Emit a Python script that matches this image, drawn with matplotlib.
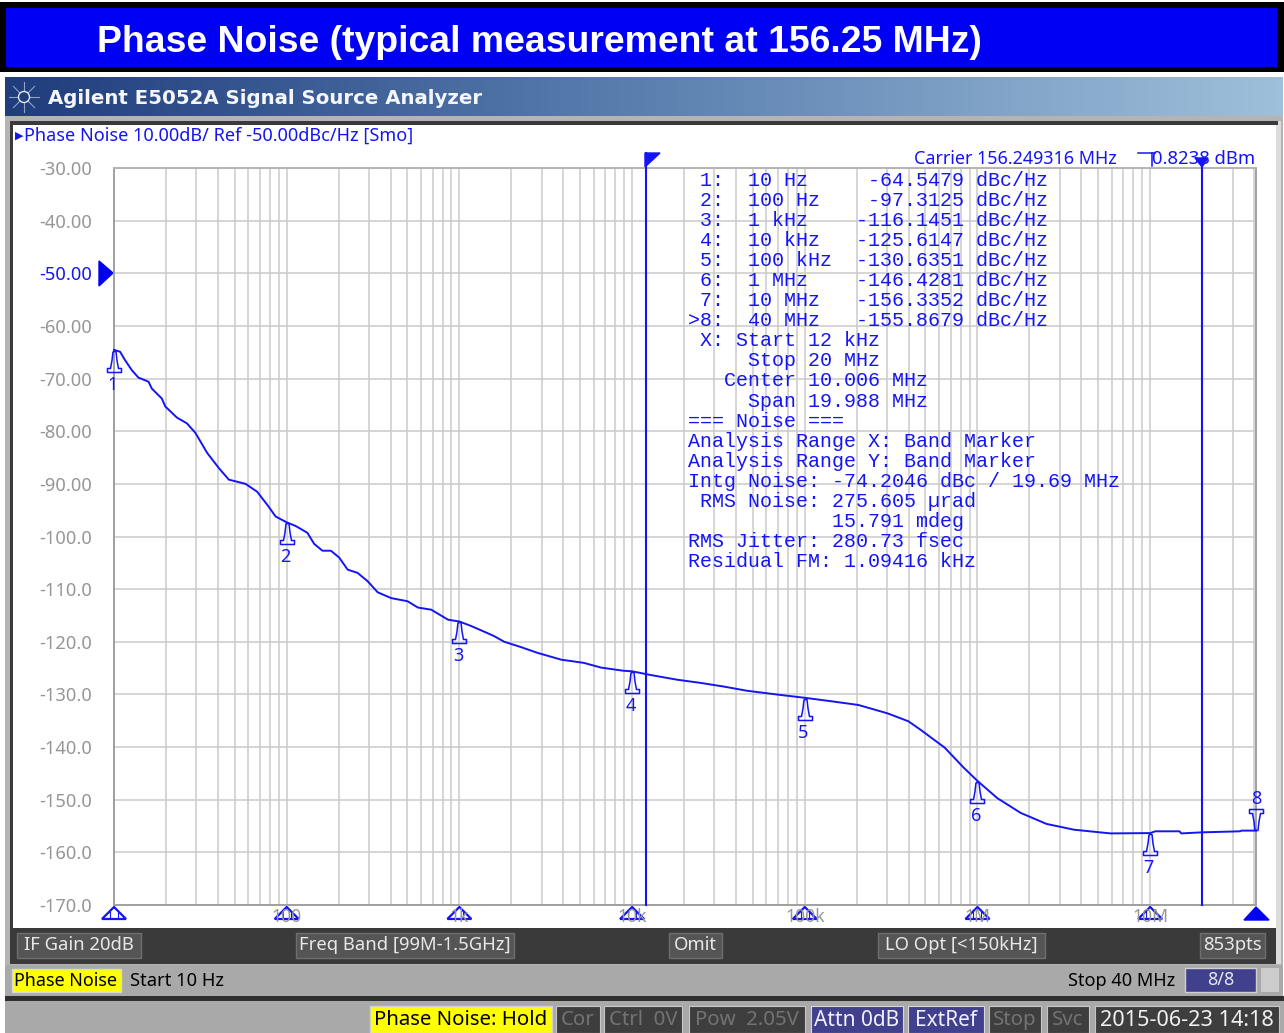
import numpy as np
import matplotlib
matplotlib.use("Agg")
import matplotlib.pyplot as plt
from matplotlib.patches import Rectangle, Polygon
from matplotlib.path import Path
from matplotlib.colors import LinearSegmentedColormap
from matplotlib.ticker import NullFormatter, NullLocator, LogLocator

# ---------- data ----------
trace_log10_hz = [1.00, 1.035, 1.064, 1.103, 1.141, 1.20, 1.219, 1.277, 1.297, 1.364, 1.422, 1.471,
                  1.539, 1.607, 1.665, 1.762, 1.829, 1.888, 1.936, 2.00, 2.052, 2.12, 2.159, 2.207,
                  2.256, 2.304, 2.353, 2.41, 2.469, 2.527, 2.605, 2.70, 2.76, 2.837, 2.934, 3.00,
                  3.068, 3.145, 3.20, 3.26, 3.356, 3.452, 3.59, 3.72, 3.82, 3.95, 4.00,
                  4.106, 4.26, 4.395, 4.53, 4.665, 4.86, 5.00, 5.154, 5.31, 5.48, 5.60, 5.67, 5.81, 5.92,
                  6.00, 6.115, 6.25, 6.40, 6.56, 6.77, 7.00, 7.03, 7.17, 7.18, 7.30, 7.52, 7.53, 7.613]
trace_dbc = [-64.55, -64.9, -66.5, -68.4, -69.8, -70.6, -71.9, -73.8, -75.3, -77.4, -78.5, -80.3,
             -84.1, -87.0, -89.2, -90.0, -91.5, -94.0, -96.2, -97.31, -98.0, -99.3, -101.4, -102.7,
             -102.7, -104.0, -106.3, -106.9, -108.5, -110.6, -111.7, -112.3, -113.5, -113.9, -115.8, -116.15,
             -117.0, -118.1, -118.9, -120.0, -121.0, -122.1, -123.4, -124.0, -124.9, -125.5, -125.61,
             -126.3, -127.2, -127.8, -128.5, -129.3, -130.1, -130.64, -131.3, -132.0, -133.6, -135.1, -136.7, -140.1, -143.9,
             -146.43, -149.7, -152.5, -154.6, -155.7, -156.4, -156.34, -156.0, -156.0, -156.4, -156.2, -156.0, -155.87, -155.87]
marker_ids = ["1", "2", "3", "4", "5", "6", "7", "8"]
marker_log10_hz = [1, 2, 3, 4, 5, 6, 7, 7.613]
marker_dbc = [-64.5479, -97.3125, -116.1451, -125.6147, -130.6351, -146.4281, -156.3352, -155.8679]
y_ticks = [-30, -40, -50, -60, -70, -80, -90, -100, -110, -120, -130, -140, -150, -160, -170]
y_labels = ["-30.00", "-40.00", "-50.00", "-60.00", "-70.00", "-80.00", "-90.00", "-100.0", "-110.0",
            "-120.0", "-130.0", "-140.0", "-150.0", "-160.0", "-170.0"]
x_ticks = [1e2, 1e3, 1e4, 1e5, 1e6, 1e7]
x_labels = ["100", "1k", "10k", "100k", "1M", "10M"]
band_hz = [12e3, 20e6]
readout = [
    (1, "1:  10 Hz     -64.5479 dBc/Hz"),
    (1, "2:  100 Hz    -97.3125 dBc/Hz"),
    (1, "3:  1 kHz    -116.1451 dBc/Hz"),
    (1, "4:  10 kHz   -125.6147 dBc/Hz"),
    (1, "5:  100 kHz  -130.6351 dBc/Hz"),
    (1, "6:  1 MHz    -146.4281 dBc/Hz"),
    (1, "7:  10 MHz   -156.3352 dBc/Hz"),
    (0, ">8:  40 MHz   -155.8679 dBc/Hz"),
    (1, "X: Start 12 kHz"),
    (5, "Stop 20 MHz"),
    (3, "Center 10.006 MHz"),
    (5, "Span 19.988 MHz"),
    (0, "=== Noise ==="),
    (0, "Analysis Range X: Band Marker"),
    (0, "Analysis Range Y: Band Marker"),
    (0, "Intg Noise: -74.2046 dBc / 19.69 MHz"),
    (1, "RMS Noise: 275.605 µrad"),
    (12, "15.791 mdeg"),
    (0, "RMS Jitter: 280.73 fsec"),
    (0, "Residual FM: 1.09416 kHz"),
]
soft_buttons = [("IF Gain 20dB", 17, 141), ("Freq Band [99M-1.5GHz]", 296, 514), ("Omit", 669, 722),
                ("LO Opt [<150kHz]", 878, 1045), ("853pts", 1200, 1265)]
status_muted = [("Cor", 556, 600), ("Ctrl  0V", 604, 682), ("Pow  2.05V", 689, 805),
                ("Stop", 989, 1041), ("Svc", 1047, 1089)]
status_active = [("Attn 0dB", 811, 903), ("ExtRef", 908, 984)]

W, H = 1284, 1033
BLUE = "#1414f5"
GRID = "#cccccc"
UI = "Noto Sans"
fig = plt.figure(figsize=(W / 100, H / 100), dpi=100, facecolor="white")

# pixel-space layer for the instrument window
bg = fig.add_axes([0, 0, 1, 1], zorder=0)
bg.set_xlim(0, W)
bg.set_ylim(H, 0)
bg.axis("off")


def box(x0, y0, x1, y1, color, **kw):
    bg.add_patch(Rectangle((x0, y0), x1 - x0, y1 - y0, facecolor=color, edgecolor=kw.pop("ec", "none"),
                           linewidth=kw.pop("lw", 0), **kw))


def label(x, y, s, color, size=13, ha="left", **kw):
    bg.text(x, y, s, color=color, fontsize=size, ha=ha, va="center", family=kw.pop("family", UI), **kw)


# title band
box(0, 2, W, 72, "black")
box(6, 8, 1277, 67, "#0000f2")
label(97, 43, "Phase Noise (typical measurement at 156.25 MHz)", "white", size=26.9, family="Liberation Sans",
      fontweight="bold")

# window header
cmap = LinearSegmentedColormap.from_list("hdr", ["#1f3c7c", "#5b80b0", "#9fc0da"])
bg.imshow(np.linspace(0, 1, 256)[None, :], extent=(5, 1283, 116, 77), cmap=cmap, aspect="auto", zorder=1)
bg.set_xlim(0, W)
bg.set_ylim(H, 0)
label(48, 98, "Agilent E5052A Signal Source Analyzer", "#f4f6fa", size=14.2, fontweight="bold",
      family="DejaVu Sans", zorder=3)
for a in np.arange(0, np.pi, np.pi / 4):
    dx, dy = 15 * np.cos(a), 15 * np.sin(a)
    bg.plot([24 - dx, 24 + dx], [97 - dy, 97 + dy], color="#8fa3c4", lw=0.8, zorder=2)
bg.add_patch(plt.Circle((24, 97), 5.5, facecolor="#1f3c7c", edgecolor="#e4e8f0", lw=1, zorder=2.5))

# panel frame
box(5, 116, 1283, 1000, "#b4b4b4")
box(1276, 121, 1281, 964, "#dcdcdc")
box(10, 121, 1278, 125, "#3a3a3a")
box(10, 121, 13, 964, "#3a3a3a")
box(11, 928, 1276, 964, "#3a3a3a")
box(13, 125, 1276, 928, "white")

# soft buttons row
for s, x0, x1 in soft_buttons:
    box(x0, 933, x1, 958, "#555555", ec="#6e6e6e", lw=1)
    label((x0 + x1) / 2, 945.5, s, "#e8e8e8", size=13.3, ha="center")

# status rows
box(5, 965, 1283, 996, "#a9a9a9")
box(12, 969, 121, 992, "#ffff00", ec="#d8d8d8", lw=1)
label(66, 981, "Phase Noise", "black", size=12.9, ha="center")
label(130, 981, "Start 10 Hz", "black", size=13.2)
label(1175, 981, "Stop 40 MHz", "black", size=13, ha="right")
box(1185, 968, 1256, 992, "#40408c", ec="#d0d0d0", lw=1)
label(1220.5, 980, "8/8", "#e8e8f4", size=13, ha="center")
box(1261, 968, 1279, 992, "#cccccc")
box(5, 996, 1284, 1001, "#2e2e2e")
box(5, 1001, 1284, 1033, "#a9a9a9")
box(370, 1006, 552, 1033, "#ffff00", ec="#d0d0d0", lw=1)
label(461, 1020, "Phase Noise: Hold", "black", size=14.7, ha="center")
for s, x0, x1 in status_muted:
    box(x0, 1006, x1, 1033, "#3e3e3e", ec="#c8c8c8", lw=0.8)
    label((x0 + x1) / 2, 1020, s, "#737373", size=14.7, ha="center")
for s, x0, x1 in status_active:
    box(x0, 1006, x1, 1033, "#40408c", ec="#d8d8d8", lw=0.8)
    label((x0 + x1) / 2, 1020, s, "#f0f0ff", size=15, ha="center")
box(1095, 1006, 1279, 1033, "#3e3e3e", ec="#c8c8c8", lw=0.8)
label(1187, 1020, "2015-06-23 14:18", "#f0f0f0", size=15.6, ha="center")

# plot header texts
label(15, 136, "▶", BLUE, size=8, family="DejaVu Sans")
label(24, 136, "Phase Noise 10.00dB/ Ref -50.00dBc/Hz [Smo]", BLUE, size=13)
label(914, 159, "Carrier 156.249316 MHz", BLUE, size=12.9)
label(1152, 159, "0.8238 dBm", BLUE, size=13.3)
bg.plot([1138, 1155], [153, 153], color=BLUE, lw=1.1)
bg.plot([1152, 1152], [153, 166], color=BLUE, lw=1.1)

# ---------- chart ----------
ax_l, ax_r, ax_t, ax_b = 114, 1256, 168, 905
ax = fig.add_axes([ax_l / W, 1 - ax_b / H, (ax_r - ax_l) / W, (ax_b - ax_t) / H], zorder=2)
ax.patch.set_alpha(0)
ax.set_xscale("log")
ax.set_xlim(10, 10 ** 7.613)
ax.set_ylim(-170, -30)
ax.set_yticks(y_ticks, y_labels)
ax.set_xticks(x_ticks, x_labels)
ax.xaxis.set_minor_locator(LogLocator(base=10, subs=np.arange(2, 10), numticks=12))
ax.xaxis.set_minor_formatter(NullFormatter())
ax.yaxis.set_minor_locator(NullLocator())
ax.tick_params(axis="both", which="both", length=0)
ax.tick_params(axis="y", labelsize=13.2, labelcolor="#969696", pad=15.5)
ax.tick_params(axis="x", labelsize=12.6, labelcolor="#969696", pad=2)
for t in ax.get_yticklabels() + ax.get_xticklabels():
    t.set_family(UI)
ax.get_yticklabels()[2].set_color(BLUE)
ax.grid(True, which="both", color=GRID, lw=1.15)
ax.set_axisbelow(True)
for s in ax.spines.values():
    s.set_color("#a0a0a0")
    s.set_linewidth(1.4)
ax.spines["top"].set_color("#b4b4b4")

# reference level arrow
bg.add_patch(Polygon([(99, 261), (113, 273), (99, 286)], closed=True, color="#0000f2", zorder=3))

# band lines
trans = ax.get_xaxis_transform()
for f in band_hz:
    ax.plot([f, f], [0, 1.0], transform=trans, color=BLUE, lw=1.5, zorder=3, clip_on=False)
bg.add_patch(Polygon([(645, 153), (660, 153), (645, 167)], closed=True, color=BLUE, zorder=1.5))
bg.plot([646, 646], [153, 168], color=BLUE, lw=1.5)
bg.add_patch(Polygon([(1195, 158), (1208, 158), (1202, 167)], closed=True, color=BLUE, zorder=4))

# trace
freq = 10.0 ** np.array(trace_log10_hz)
ax.plot(freq, trace_dbc, color=BLUE, lw=1.4, zorder=4, clip_on=False)

# bell-shaped marker symbols: apex at the origin, 22 units long (1 unit = 1 px)
bell_v = np.array([(-1.5, 1), (1.5, 1), (2.5, 10), (4, 18), (7, 18), (7, 22), (-7, 22), (-7, 18), (-4, 18),
                   (-2.5, 10), (-1.5, 1)], dtype=float)
bell_c = [Path.MOVETO] + [Path.LINETO] * 10
bell_hang = Path(bell_v * [1, -1], bell_c)
bell_stand = Path(bell_v, bell_c)
ms_points = 2 * 22 * 0.72
for name, lf, v in zip(marker_ids, marker_log10_hz, marker_dbc):
    inverted = name == "8"
    f = 10.0 ** lf
    ax.plot([f], [v], marker=bell_stand if inverted else bell_hang, ms=ms_points, mfc="none", mec=BLUE, mew=1.1,
            ls="none", zorder=5, clip_on=False)
    dy_px = 32 if inverted else -35
    ax.annotate(name, (f, v), xytext=(0 if inverted else -1, dy_px * 0.72), textcoords="offset points",
                color=BLUE, fontsize=13, ha="center", va="center", family=UI, zorder=5, annotation_clip=False)

# decade triangles under the axis
for lf in [1, 2, 3, 4, 5, 6, 7]:
    cx = ax.transData.transform((10.0 ** lf, -170))[0]
    bg.add_patch(Polygon([(cx - 12, 919), (cx, 907), (cx + 12, 919)], closed=True, fill=False, edgecolor=BLUE,
                         lw=1.6, zorder=5))
    bg.plot([cx - 4, cx - 4], [912, 919], color=BLUE, lw=0.8, zorder=5)
    bg.plot([cx + 4, cx + 4], [912, 919], color=BLUE, lw=0.8, zorder=5)
bg.add_patch(Polygon([(1244, 920), (1256, 907), (1269, 920)], closed=True, color="#0000f2", zorder=5))

# readout block, fixed character grid
overlay = fig.add_axes([0, 0, 1, 1], zorder=6)
overlay.set_xlim(0, W)
overlay.set_ylim(H, 0)
overlay.axis("off")
for i, (col, s) in enumerate(readout):
    overlay.text(688 + col * 12, 180.5 + i * 20.05, s, color=BLUE, family="Liberation Mono", fontsize=14.4,
                 ha="left", va="center")

fig.savefig("out.png", dpi=100)
